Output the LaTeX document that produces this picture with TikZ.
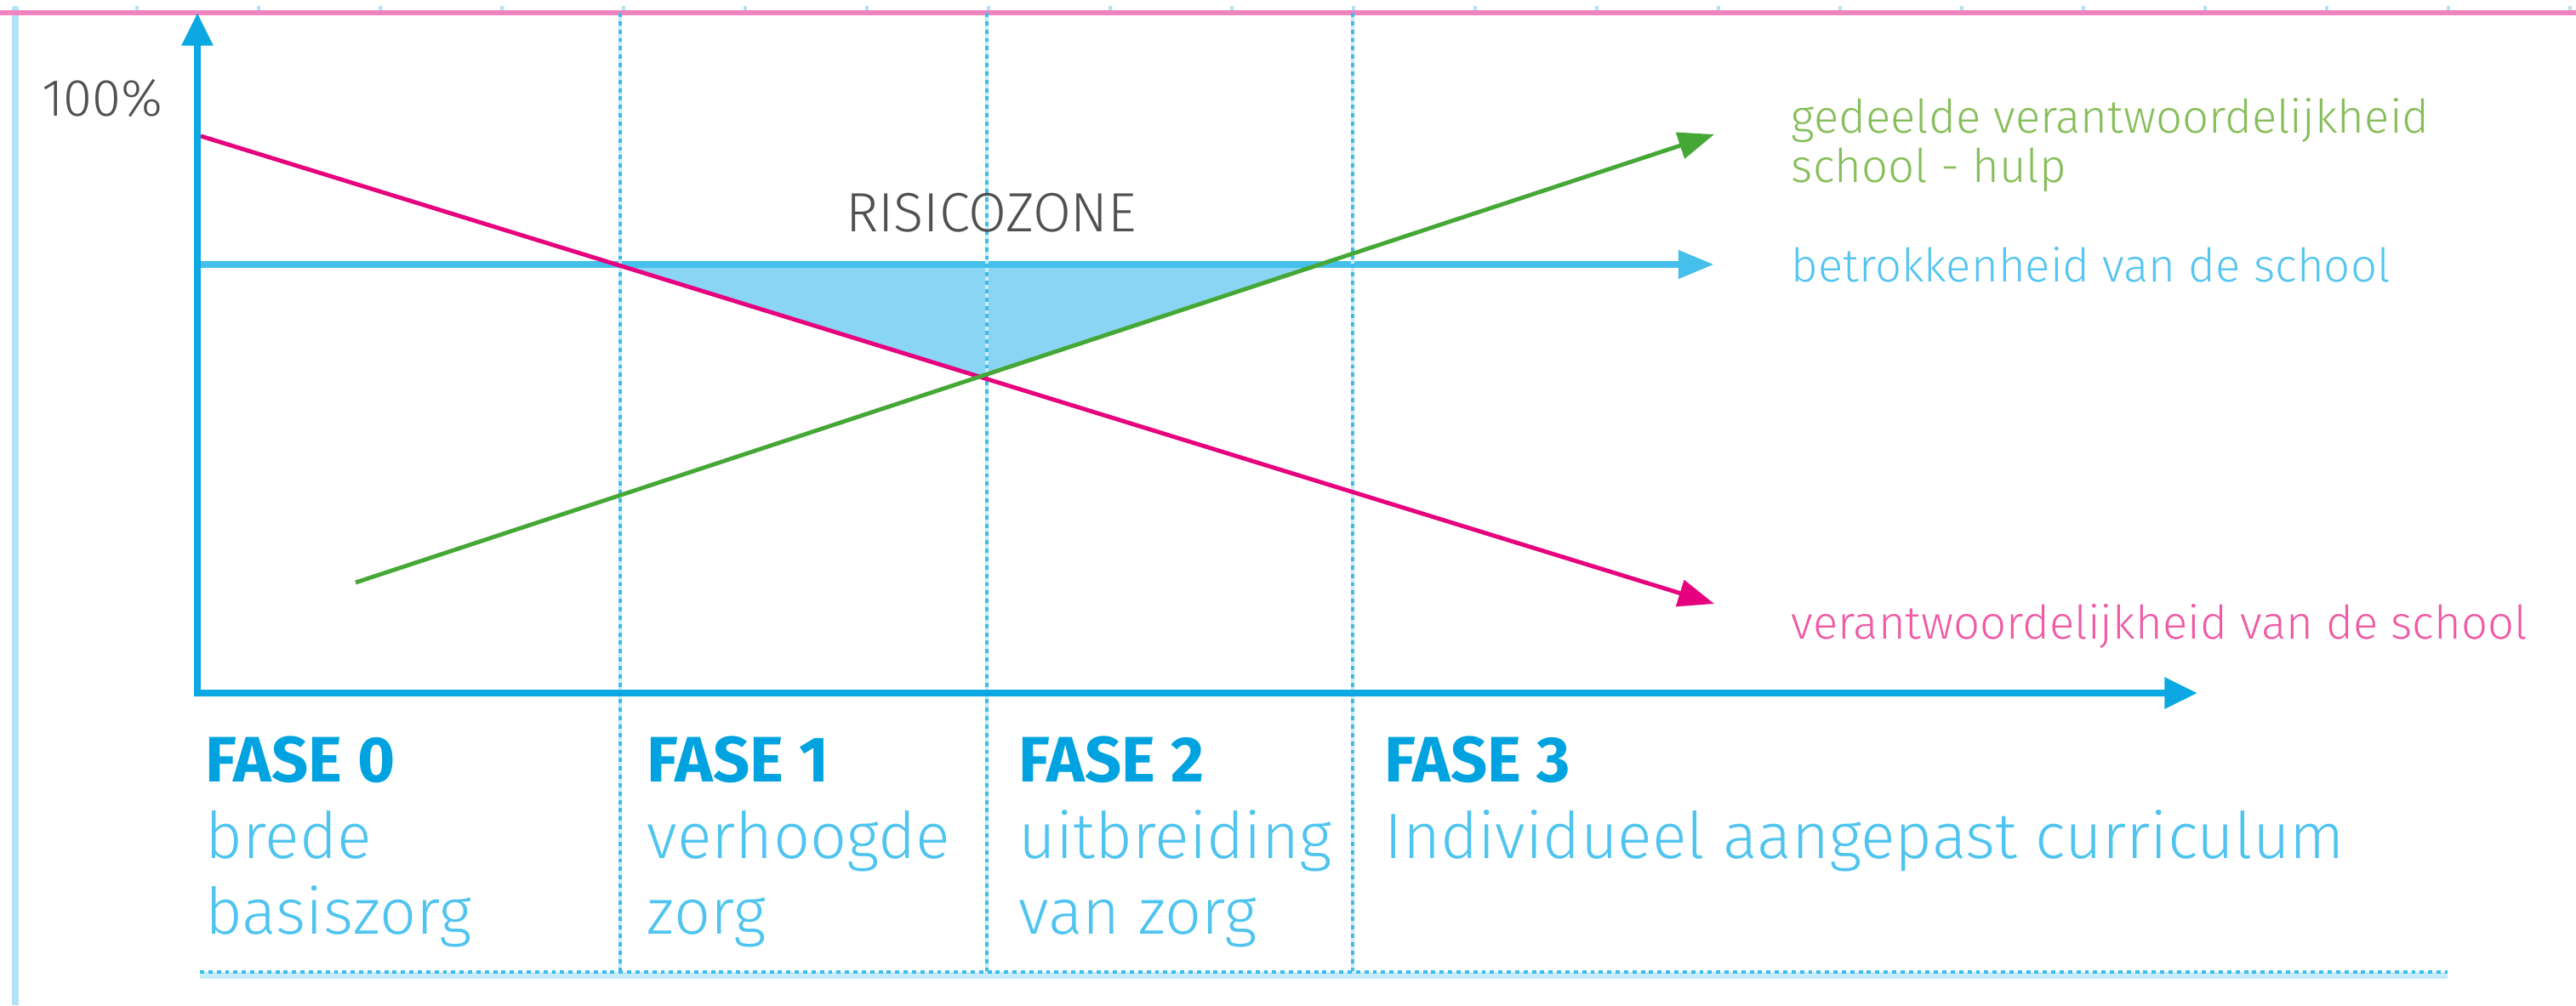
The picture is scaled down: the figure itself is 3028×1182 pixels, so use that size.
\documentclass[tikz,border=0pt]{standalone}
\usepackage{fontspec}
\setmainfont{Fira Sans}
\newfontfamily\thinfont{Fira Sans Light}
\usetikzlibrary{arrows.meta,positioning}
\definecolor{axisblue}{HTML}{0BA8E3}
\definecolor{fasetitle}{HTML}{00A3E0}
\definecolor{phasetext}{HTML}{4FC4EF}
\definecolor{schoolblue}{HTML}{45BFEC}
\definecolor{bluetext}{HTML}{55C5EF}
\definecolor{zonefill}{HTML}{8AD5F3}
\definecolor{pinkline}{HTML}{E6007E}
\definecolor{pinktext}{HTML}{EE5BA6}
\definecolor{greenline}{HTML}{45A735}
\definecolor{greentext}{HTML}{86BE5A}
\definecolor{toprule}{HTML}{F084BF}
\definecolor{framebar}{HTML}{B3E2F6}
\definecolor{dividerlight}{HTML}{C6ECFA}
\definecolor{dividerdark}{HTML}{3DBBEB}
\definecolor{greytext}{HTML}{505050}
\newcommand\fasefont{\normalfont\bfseries\color{fasetitle}\fontsize{21.5}{26}\selectfont}

\begin{document}
\begin{tikzpicture}[x = 0.01cm, y = -0.01cm,
        axis/.style = {draw = axisblue, line width = 2.4pt,
            {Triangle[length = 11pt, width = 10pt]}-{Triangle[length = 11pt, width = 10pt]}},
        trend/.style = {line width = 1.4pt, -{Triangle[length = 12pt, width = 9pt]}},
        gridtick/.style = {draw = framebar, line width = 1.3pt},
        dividerbase/.style = {draw = dividerlight, line width = 1.4pt},
        divider/.style = {draw = dividerdark, line width = 1.4pt, dash pattern = on 1.4pt off 1.4pt},
        phase/.style = {inner sep = 0, align = left, text = phasetext,
            font = \thinfont\fontsize{21.5}{25.5}\selectfont},
        lbl/.style = {inner sep = 0, align = left, font = \thinfont\fontsize{15.5}{16.5}\selectfont}]
        \useasboundingbox (0, 0) rectangle (3028, 1182);

        % frame
        \draw [draw = framebar, line width = 2pt] (18, 8) -- (18, 1182);
        \foreach \k in {0, ..., 21}
            \draw [gridtick] ({18 + 143*\k}, 7) -- ({18 + 143*\k}, 15);
        \draw [draw = toprule, line width = 1.8pt] (0, 15) -- (3028, 15);

        \coordinate (origin) at (232, 815);
        \coordinate (ytop) at (232, 15);
        \coordinate (xend) at (2583, 815);
        \coordinate (pinkStart) at (236, 160);
        \coordinate (pinkEnd) at (2015, 710);
        \coordinate (greenStart) at (418, 685);
        \coordinate (greenEnd) at (2015, 158);
        \coordinate (blueStart) at (232, 311);
        \coordinate (blueEnd) at (2015, 311);

        % risk zone
        \fill [zonefill] (intersection of pinkStart--pinkEnd and blueStart--blueEnd)
            -- (intersection of greenStart--greenEnd and blueStart--blueEnd)
            -- (intersection of pinkStart--pinkEnd and greenStart--greenEnd) -- cycle;
        \draw [trend, draw = schoolblue, line width = 2.4pt] (blueStart) -- (blueEnd);

        % phases
        \foreach \x/\d in {729/d1, 1160/d2, 1590/d3} {
            \draw [dividerbase] (\x, 15) -- (\x, 1145);
            \draw [divider] (\x, 15) -- (\x, 1145);
            \coordinate (\d) at (\x, 815);
        }
        \draw [draw = dividerlight, line width = 2.5pt] (235, 1147) -- (2877, 1147);
        \draw [divider] (235, 1143) -- (2877, 1143);

        \draw [trend, draw = pinkline] (pinkStart) -- (pinkEnd);
        \draw [trend, draw = greenline] (greenStart) -- (greenEnd);
        \draw [axis] (ytop) -- (origin) -- (xend);

        \node [text = greytext, font = \thinfont\fontsize{17.5}{19}\selectfont] (full) at (120, 116) {100\%};
        \node [text = greytext, font = \thinfont\fontsize{18.5}{20}\selectfont] (zone) at (1165, 250) {RISICOZONE};

        \node [lbl, text = greentext, anchor = west] (shared) at (2105, 171) {gedeelde verantwoordelijkheid\\school - hulp};
        \node [lbl, text = bluetext, right = 0.9cm of blueEnd] (involved) {betrokkenheid van de school};
        \node [lbl, text = pinktext, below right = 0cm and 0.9cm of pinkEnd] (duty) {verantwoordelijkheid van de school};

        \node [phase, below right = 0.5cm and 0.09cm of origin] (f0) {{\fasefont FASE 0}\\brede\\basiszorg};
        \node [phase, below right = 0.5cm and 0.31cm of d1] (f1) {{\fasefont FASE 1}\\verhoogde\\zorg};
        \node [phase, below right = 0.5cm and 0.37cm of d2] (f2) {{\fasefont FASE 2}\\uitbreiding\\van zorg};
        \node [phase, below right = 0.5cm and 0.37cm of d3] (f3) {{\fasefont FASE 3}\\Individueel aangepast curriculum};
    \end{tikzpicture}
\end{document}
